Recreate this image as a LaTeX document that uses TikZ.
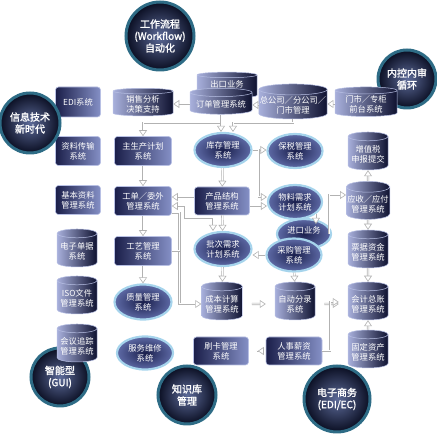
\documentclass[tikz,border=0pt]{standalone}
\usepackage{fontspec}
\newfontfamily\cjk{Noto Sans CJK SC}
\newfontfamily\cjkb[FakeBold=1.5]{Noto Sans CJK SC}
\usetikzlibrary{shapes.geometric,arrows.meta}
\definecolor{navy}{HTML}{1B1F4A}
\definecolor{boxlight}{HTML}{8590C6}
\definecolor{boxedge}{HTML}{B8C0E4}
\definecolor{cyllight}{HTML}{A8B0DC}
\definecolor{cylmid}{HTML}{4A5390}
\definecolor{cyldark}{HTML}{0F1230}
\definecolor{ovalin}{HTML}{1A1F4C}
\definecolor{ovalout}{HTML}{5E6AA6}
\definecolor{ringblue}{HTML}{A6D4EC}
\definecolor{bigin}{HTML}{5C6A98}
\definecolor{bigout}{HTML}{0A0E22}
\definecolor{ringteal}{HTML}{2E6C86}

\begin{document}
\begin{tikzpicture}[x=1pt,y=-1pt,
  every node/.style={text=white, font=\cjk\fontsize{8.3}{10}\selectfont, align=center, inner sep=1pt},
  sysbox/.style={rectangle, rounded corners=3pt, draw=boxedge, line width=0.6pt,
    left color=navy, right color=boxlight, minimum width=56pt, minimum height=28pt},
  sysdb/.style={cylinder, shape border rotate=90, aspect=0.25, draw=boxedge, line width=0.5pt,
    left color=cyllight, middle color=cylmid, right color=cyldark, minimum width=40pt, minimum height=38pt},
  widedb/.style={sysdb, aspect=0.16, minimum width=62pt, minimum height=26pt},
  sysoval/.style={ellipse, inner color=ovalin, outer color=ovalout, draw=ringblue, line width=2.2pt,
    minimum width=56pt, minimum height=34pt},
  bigcirc/.style={circle, inner color=bigin, outer color=bigout, draw=ringteal, line width=3pt,
    minimum size=60pt, font=\cjkb\fontsize{10}{12}\selectfont},
  flow/.style={draw=gray!60, line width=0.6pt, double=white, double distance=1pt,
    -{Triangle[length=6pt,width=8pt,fill=white]}},
  flowline/.style={draw=gray!60, line width=0.6pt, double=white, double distance=1pt},
  gap/.style={shorten <=9pt, shorten >=9pt}]
  \useasboundingbox (0,0) rectangle (437,435);
  %Circles behind
  \node[bigcirc, minimum size=58pt] (ic)  at (407,79)  {内控内审\\循环};
  \node[bigcirc, minimum size=68pt] (wf)  at (160,36)  {工作流程\\(Workflow)\\自动化};
  \node[bigcirc, minimum size=58pt] (gui) at (60,377)  {智能型\\(GUI)};
  \node[bigcirc, minimum size=58pt] (kb)  at (187,395) {知识库\\管理};
  \node[bigcirc, minimum size=66pt] (ec)  at (337,399) {电子商务\\(EDI/EC)};
  %Column 1
  \node[sysbox, minimum width=45pt, minimum height=30pt] (edi)  at (78,102) {EDI系统};
  \node[sysbox, minimum width=45pt, minimum height=29pt] (zlcs) at (78,151) {资料传输\\系统};
  \node[sysbox, minimum width=45pt, minimum height=29pt] (jbzl) at (78,200) {基本资料\\管理系统};
  \node[sysdb] (dzdj) at (77,251) {电子单据\\系统};
  \node[sysdb] (iso)  at (77,298) {ISO文件\\管理系统};
  \node[sysdb] (hyzz) at (77,346) {会议追踪\\管理系统};
  %Column 2
  \node[widedb, minimum width=60pt, minimum height=27pt] (xsfx) at (143,104) {销售分析\\决策支持};
  \node[sysbox, minimum width=57pt, minimum height=29pt] (zscjh) at (143,151) {主生产计划\\系统};
  \node[sysbox, minimum width=57pt, minimum height=29pt] (gdww)  at (143,201) {工单／委外\\管理系统};
  \node[sysbox, minimum width=57pt, minimum height=29pt] (gygl)  at (143,251) {工艺管理\\系统};
  \node[sysoval, minimum width=57pt, minimum height=35pt] (zlgl) at (143,302) {质量管理\\系统};
  \node[sysoval, minimum height=33pt] (fwwx) at (145,353) {服务维修\\系统};
  %Column 3
  \node[widedb, minimum width=60pt, minimum height=26pt] (ckyw) at (227,87) {\raisebox{5pt}{出口业务}};
  \node[widedb] (ddgl) at (221,104) {订单管理系统};
  \node[sysoval, minimum width=57pt] (kcgl) at (223,150) {库存管理\\系统};
  \node[sysbox, minimum width=55pt] (cpjg) at (222,201) {产品结构\\管理系统};
  \node[sysoval, minimum width=57pt] (bcxq) at (223,249) {批次需求\\计划系统};
  \node[sysdb, minimum width=41pt] (cbjs) at (222,304) {成本计算\\管理系统};
  \node[sysbox, minimum width=55pt] (skgl) at (221,351) {刷卡管理\\系统};
  %Column 4
  \node[widedb, minimum width=63pt] (zgs) at (293,105) {总公司／分公司／\\门市管理};
  \node[sysoval, minimum width=55pt] (bsgl) at (295,151) {保税管理\\系统};
  \node[sysoval, minimum width=54pt] (wlxq) at (295,202) {物料需求\\计划系统};
  \node[sysoval, minimum width=54pt, minimum height=30pt] (jkyw) at (304,234) {\raisebox{7pt}{进口业务}};
  \node[sysoval, minimum width=55pt, minimum height=33pt] (cggl) at (294,255) {采购管理\\系统};
  \node[sysdb] (zdfl) at (295,304) {自动分录\\系统};
  \node[sysbox] (rsxz) at (294,351) {人事薪资\\管理系统};
  %Column 5
  \node[widedb, minimum height=28pt] (mdqt) at (366,104) {门市／专柜\\前台系统};
  \node[sysdb] (zzs)  at (368,154) {增值税\\申报提交};
  \node[sysdb] (ysyf) at (368,204) {应收／应付\\管理系统};
  \node[sysdb] (pjzj) at (368,252) {票据资金\\管理系统};
  \node[sysdb] (kjzz) at (368,304) {会计总账\\管理系统};
  \node[sysdb] (gdzc) at (368,352) {固定资产\\管理系统};
  %Circle in front
  \node[bigcirc] (it) at (30,123) {信息技术\\新时代};
  %Helper points
  \coordinate (bus)   at (0,123);
  \coordinate (spine) at (179.5,0);
  \coordinate (bend)  at (185,218);
  \coordinate (rise)  at (330,0);
  \coordinate (jkin)  at ([yshift=-6pt]jkyw.north -| wlxq.-30);
  %Lines
  \draw[flow] (mdqt.west) -- (mdqt.west -| zgs.east);
  \draw[flow] (zgs.west) -- (zgs.west -| ddgl.east);
  \draw[flow] (ddgl.west) -- (ddgl.west -| xsfx.east);
  \draw[flow] (ddgl.south) -- (ddgl.south |- bus) -| (zscjh.north);
  \draw[flow] (ddgl.south) -- (ddgl.south |- kcgl.north);
  \draw[flow] (zgs.south) -- (zgs.south |- bus) -| ([xshift=10pt]kcgl.north);
  \draw[flow] (zscjh) -- (gdww);
  \draw[flow] (gdww) -- (gygl);
  \draw[flow] (gygl) -- (zlgl);
  \draw[flow] (kcgl) -- (cpjg);
  \draw[flow] (kcgl.east) -- (kcgl.east -| bsgl.west);
  \draw[flow] (kcgl.east) -- ++(6,0) |- ([yshift=5pt]wlxq.west);
  \draw[flow] ([yshift=4pt]cpjg.west) -- ([yshift=4pt]cpjg.west -| gdww.east);
  \draw[flow] ([yshift=-5pt]cpjg.east) -- ([yshift=-5pt]cpjg.east -| wlxq.west);
  \draw[flow, {Triangle[length=6pt,width=8pt,fill=white]}-{Triangle[length=6pt,width=8pt,fill=white]}]
    ([yshift=-5pt]gdww.east) -| (bend) -| ([xshift=-10pt]bcxq.north);
  \draw[flow] (cpjg) -- (bcxq);
  \draw[flow] ([yshift=-12pt]gdww.east) -- ([yshift=-12pt]gdww.east -| spine) |- (cbjs.west);
  \draw[flowline] (gygl.east) -- (gygl.east -| spine);
  \draw[flow] (cggl.west) -- (cggl.west -| bcxq.east);
  \draw[flow] (wlxq.-30) -- (jkin);
  \draw[flow] ([xshift=-3pt]jkyw.east) |- ([yshift=9pt]ysyf.west);
  \draw[flow] (bcxq) -- (cbjs);
  \draw[flow] (cggl) -- (zdfl);
  \draw[flow, gap] (cbjs) -- (zdfl);
  \draw[flow, gap] (zdfl) -- (kjzz);
  \draw[flow, shorten >=9pt] (rsxz.east) -- (rsxz.east -| rise) |- ([yshift=2pt]kjzz.west);
  \draw[flow, gap] (rsxz) -- (skgl);
  \draw[flow] (ysyf) -- (zzs);
  \draw[flow] (ysyf) -- (pjzj);
  \draw[flow] (pjzj) -- (kjzz);
  \draw[flow] (gdzc) -- (kjzz);
\end{tikzpicture}
\end{document}
